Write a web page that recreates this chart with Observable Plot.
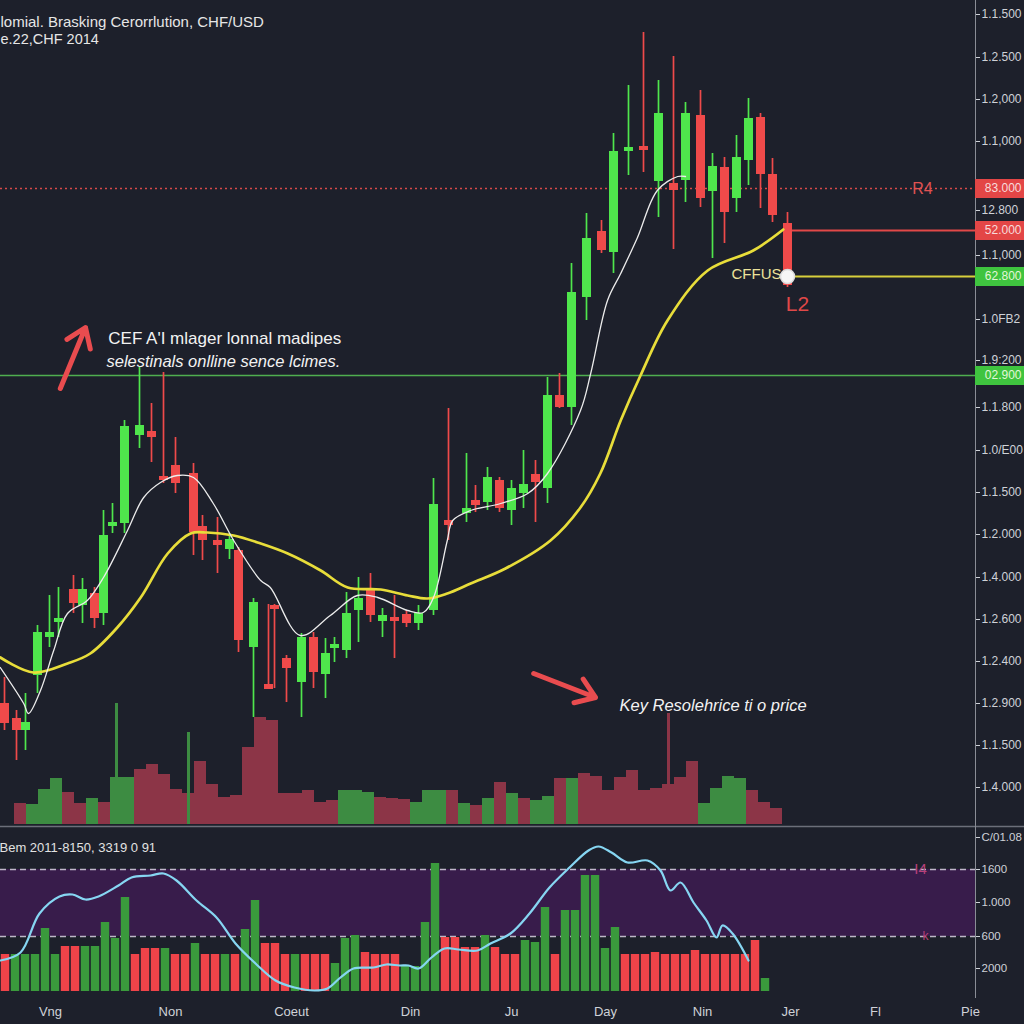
<!DOCTYPE html>
<html><head><meta charset="utf-8">
<script src="https://cdn.jsdelivr.net/npm/d3@7"></script>
<script src="https://cdn.jsdelivr.net/npm/@observablehq/plot@0.6"></script>
<style>
html,body{margin:0;padding:0;background:#1d202b;}
#wrap{position:relative;width:1024px;height:1024px;background:#1d202b;overflow:hidden;}
#wrap svg{position:absolute;left:0;}
</style></head><body><div id="wrap"></div>
<script>
// ---------- candles (session, open, high, low, close) ----------
const candleDay = [0,2,3.5,5.5,7.5,9,11.5,13,15,16.5,18,20,22.5,24.5,26.5,28.5,31.5,33,35.5,37.5,39,41.5,44,45,47,49.5,51.5,53.5,55,57,59,61,63,65,67,69,71.5,74,77,78.5,80.5,82.5,84.5,86.5,88.5,90.5,92.5,94.5,97,99.5,101.5,104,106.5,109,111.5,113.5,116,118,120,122,124,126,128,130.5];
const open  = [1.127,1.112,1.100,1.155,1.193,1.208,1.241,1.225,1.237,1.217,1.304,1.307,1.395,1.399,1.354,1.365,1.357,1.304,1.290,1.281,1.280,1.183,1.146,1.225,1.172,1.148,1.193,1.156,1.182,1.180,1.220,1.241,1.209,1.213,1.216,1.207,1.220,1.310,1.317,1.330,1.328,1.350,1.320,1.337,1.356,1.342,1.435,1.423,1.533,1.599,1.578,1.679,1.684,1.649,1.647,1.650,1.715,1.639,1.663,1.632,1.670,1.713,1.656,1.607];
const close = [1.107,1.100,1.108,1.198,1.198,1.212,1.227,1.241,1.212,1.295,1.308,1.404,1.405,1.393,1.350,1.347,1.298,1.290,1.285,1.291,1.190,1.228,1.141,1.221,1.162,1.193,1.158,1.177,1.186,1.217,1.232,1.215,1.215,1.209,1.207,1.217,1.326,1.305,1.322,1.325,1.353,1.322,1.342,1.346,1.348,1.435,1.423,1.538,1.592,1.580,1.679,1.683,1.680,1.717,1.640,1.717,1.632,1.664,1.618,1.673,1.712,1.656,1.615,1.545];
const high  = [1.153,1.120,1.137,1.205,1.235,1.243,1.255,1.252,1.243,1.320,1.327,1.410,1.463,1.427,1.458,1.393,1.367,1.315,1.313,1.297,1.283,1.232,1.226,1.226,1.175,1.197,1.198,1.192,1.193,1.238,1.253,1.257,1.222,1.235,1.220,1.225,1.352,1.422,1.377,1.345,1.363,1.353,1.350,1.380,1.370,1.453,1.457,1.567,1.617,1.610,1.697,1.745,1.798,1.750,1.774,1.728,1.740,1.677,1.673,1.695,1.732,1.717,1.672,1.618];
const low   = [1.100,1.070,1.080,1.137,1.183,1.193,1.217,1.207,1.202,1.205,1.297,1.297,1.382,1.368,1.347,1.337,1.275,1.270,1.257,1.271,1.178,1.113,1.141,1.142,1.128,1.113,1.142,1.132,1.168,1.172,1.188,1.208,1.193,1.172,1.203,1.200,1.215,1.290,1.308,1.318,1.320,1.318,1.305,1.322,1.308,1.327,1.422,1.405,1.510,1.577,1.557,1.655,1.658,1.613,1.581,1.628,1.623,1.572,1.587,1.618,1.645,1.622,1.608,1.543];

// ---------- moving averages ----------
const fastMaDay   = [-0.7,3.2,4,6,8.2,10.5,13.8,16.5,20.5,23.2,26,28.8,31.5,34.8,38.2,42.7,44.3,49.3,54.3,58.8,62.2,67.2,69.8,71.5,73.8,74.7,77.7,82.7,87.2,90.5,96,97.7,100.5,102.7,105.5,108.8,112.2,113.5];
const fastMaPrice = [1.163,1.127,1.117,1.140,1.180,1.217,1.230,1.253,1.300,1.333,1.348,1.355,1.353,1.327,1.290,1.250,1.243,1.195,1.215,1.235,1.233,1.220,1.218,1.233,1.290,1.310,1.320,1.327,1.337,1.357,1.420,1.457,1.530,1.557,1.593,1.640,1.654,1.654];
const slowMaDay   = [-0.7,4.8,10.5,14.3,18.8,22.7,27.2,31,33.8,38.2,42.7,47.2,52.7,57.2,62.7,67.2,70.5,73.8,77.7,83.5,91,96,99.3,102.7,106,110.5,117.2,124.8,129.8];
const slowMaPrice = [1.173,1.158,1.167,1.177,1.203,1.233,1.277,1.297,1.298,1.295,1.287,1.277,1.260,1.243,1.241,1.235,1.232,1.237,1.247,1.262,1.290,1.323,1.357,1.410,1.455,1.510,1.560,1.580,1.601];

// ---------- volume (one bar per slot) ----------
const volume = [21,20,35,46,32,21,26,22,47,47,55,60,50,35,31,63,40,27,29,77,107,104,31,31,34,22,24,34,34,32,27,26,25,22,34,34,34,21,19,26,42,31,26,24,28,46,46,51,48,34,47,54,34,36,40,47,63,21,36,48,46,34,22,16];
const volumeSide = "RGGGRRGRGGRRRRRRRRRRRRRRRRRGGGRRRGGGRGRGRGRGGRGRRRRRRRRRRGGGGRRR";
const spikeSlot = [8,14,54];
const spikeVol  = [121,92,111];
const spikeSide = "GGR";

// ---------- levels on the price axis ----------
const levelPrice = [1.642,1.600,1.554,1.455];
const levelLabel = ["83.000","52.000","62.800","02.900"];
const levelSide  = ["R","R","G","G"];
const yTickVals   = [1.816,1.773,1.731,1.689,1.620,1.575,1.511,1.470,1.423,1.380,1.338,1.296,1.253,1.211,1.169,1.127,1.085,1.043];
const yTickLabels = ["1.1.500","1.2.500","1.2,000","1.1,000","12.800","1.1,000","1.0FB2","1.9:200","1.1.800","1.0/E00","1.1.500","1.2.000","1.4.000","1.2.600","1.2.400","1.2.900","1.1.500","1.4.000"];

// ---------- annotations ----------
const noteText   = ["CEF A'I mlager lonnal madipes","selestinals onlline sence lcimes.","Key Resolehrice ti o price"];
const noteDay    = [17.3,17,102.5];
const notePrice  = [1.492,1.469,1.125];
const noteItalic = [false,true,true];
const arrowFromDay = [9.3,88.2], arrowFromPrice = [1.442,1.157];
const arrowToDay   = [13.5,98.5], arrowToPrice   = [1.503,1.133];

// ---------- lower indicator ----------
const histVal = [37,37,37,37,63,37,45,45,45,45,69,53,94,37,43,43,43,37,37,48,37,37,37,37,62,91,48,48,37,37,37,37,37,28,53,56,39,37,37,37,25,25,69,128,54,54,44,44,56,44,37,37,51,49,84,37,81,81,116,116,43,64,37,37,37,39,37,37,37,41,37,37,37,37,37,51,13];
const histSide = "RGGGGGRRGGGGGRRRGRRGRRGRGGRRRGRRRGGGRRRRGGGGRRRRGRRRGGGRGGGGGGRRRRRRRRRRRRRRG";
const oscX = [0,2,3.9,5.9,7.2,8.5,9.8,11.8,13.1,15,16.3,17.6,19.6,21.6,23.5,25.5,27.5,29.4,31.4,32.7,34,35.3,37.3,38.6,39.9,40.8,41.8,43.1,44.4,45.8,47.7,49,51,52.9,54.9,56.9,58.8,59.8,61.1,62.7,64.7,66,67,68,69.3,70.6,71.6,72.2,73.2,74.8];
const oscY = [31,39,78,95,97,92,95,106,114,116,118,111,91,74,48,28,11,4,1,3,14,23,24,27,26,26,23,34,43,42,41,48,58,78,104,124,141,145,139,129,131,121,101,109,89,71,54,66,58,31];
const oscBand = [55,122];
const lowTickVals = [154,122,89,55,23];
const lowTickLabels = ["C/01.08","1600","1.000","600","2000"];
const timeTicks = [5,17,29.1,41,51.1,60.5,70.2,79,87.5,97];
const timeLabels = ["Vng","Non","Coeut","Din","Ju","Day","Nin","Jer","Fl","Pie"];

// ====================================================================
const FONT = "Liberation Sans, Arial, Helvetica, sans-serif";
const GREEN = "#4fe64c", RED = "#ef4a4a";
const VGREEN = "#3d8c42", VRED = "#8c3547";
const HGREEN = "#3a9a3c", HRED = "#ef4349";
const xMin = -0.667, xMax = 161.833, xEdge = 170;
const yMin = 1.004, yMax = 1.830;
const lastDay = candleDay[candleDay.length - 1];

const candles = candleDay.map((d, i) => ({day: d, open: open[i], high: high[i], low: low[i], close: close[i]}));
const cColor = d => d.close >= d.open ? GREEN : RED;
const fastMa = fastMaDay.map((d, i) => ({day: d, price: fastMaPrice[i]}));
const slowMa = slowMaDay.map((d, i) => ({day: d, price: slowMaPrice[i]}));
const levels = levelPrice.map((p, i) => ({price: p, label: levelLabel[i], side: levelSide[i]}));
const notes = noteText.map((t, i) => ({text: t, day: noteDay[i], price: notePrice[i], italic: noteItalic[i]}));
const arrows = arrowFromDay.map((d, i) => ({x1: d, y1: arrowFromPrice[i], x2: arrowToDay[i], y2: arrowToPrice[i]}));

const wrap = document.getElementById("wrap");

// volume layer (beneath the candles)
const volData = volume.map((v, i) => ({i, v, side: volumeSide[i]}));
const spikes = spikeSlot.map((s, i) => ({i: s, v: spikeVol[i], side: spikeSide[i]}));
const volPlot = Plot.plot({
  width: 795, height: 126, marginLeft: 0, marginRight: 0, marginTop: 0, marginBottom: 0,
  style: {background: "transparent"},
  x: {type: "band", domain: d3.range(volume.length), padding: 0, axis: null},
  y: {domain: [0, 126], axis: null},
  marks: [
    Plot.barY(volData, {x: "i", y: "v", fill: d => d.side === "G" ? VGREEN : VRED}),
    Plot.ruleX(spikes, {x: "i", y1: 0, y2: "v", stroke: d => d.side === "G" ? VGREEN : VRED, strokeWidth: 3})
  ]
});
volPlot.style.top = "698px";
wrap.appendChild(volPlot);

// main price panel
const main = Plot.plot({
  width: 1024, height: 826, marginLeft: 0, marginRight: 49, marginTop: 0, marginBottom: 0,
  style: {background: "transparent", color: "#cfd2d8", fontFamily: FONT, fontSize: "12px", overflow: "visible"},
  x: {domain: [xMin, xMax], axis: null},
  y: {domain: [yMin, yMax], axis: "right", ticks: yTickVals, tickFormat: d => yTickLabels[yTickVals.indexOf(d)], tickSize: 4, tickPadding: 2, label: null},
  marks: [
    Plot.ruleX([xMax], {y1: yMin, y2: yMax, stroke: "#8a8d96", strokeWidth: 1}),
    Plot.ruleY([levelPrice[3]], {x1: xMin, x2: xMax, stroke: "#4fae4f", strokeWidth: 1.3}),
    Plot.ruleY([levelPrice[0]], {x1: xMin, x2: xMax, stroke: "#d84a4a", strokeWidth: 1.4, strokeDasharray: "2,3"}),
    Plot.ruleY([levelPrice[1]], {x1: lastDay + 0.5, x2: xMax, stroke: "#e24848", strokeWidth: 1.8}),
    Plot.ruleY([levelPrice[2]], {x1: lastDay + 0.5, x2: xMax, stroke: "#d8cf3c", strokeWidth: 1.8}),
    Plot.ruleX(candles, {x: "day", y1: "low", y2: "high", stroke: cColor, strokeWidth: 1.7}),
    Plot.ruleX(candles, {x: "day", y1: "open", y2: "close", stroke: cColor, strokeWidth: 9}),
    Plot.line(slowMa, {x: "day", y: "price", stroke: "#e8dd3a", strokeWidth: 2.7, curve: "catmull-rom"}),
    Plot.line(fastMa, {x: "day", y: "price", stroke: "#ececec", strokeWidth: 1.3, curve: "catmull-rom"}),
    // price badges on the axis
    Plot.ruleY(levels, {y: "price", x1: xMax, x2: xEdge, stroke: d => d.side === "R" ? "#e34646" : "#3fc43f", strokeWidth: 19}),
    Plot.text(levels, {y: "price", x: xEdge, text: "label", textAnchor: "end", dx: -3, fill: d => d.side === "R" ? "#f7dcdc" : "#e2f7d8", fontSize: 12}),
    Plot.text(["R4"], {x: 153, y: levelPrice[0], fill: "#e05252", fontSize: 16}),
    Plot.text(["CFFUS"], {x: lastDay - 1, y: levelPrice[2] + 0.002, textAnchor: "end", fill: "#ece39a", fontSize: 15}),
    Plot.dot([0], {x: lastDay, y: levelPrice[2], r: 7, fill: "#f6f6f6", stroke: "#dddddd"}),
    Plot.text(["L2"], {x: lastDay - 0.3, y: levelPrice[2] - 0.028, textAnchor: "start", fill: "#e04848", fontSize: 21, fontWeight: 300}),
    // notes and arrows
    Plot.arrow(arrows, {x1: "x1", y1: "y1", x2: "x2", y2: "y2", stroke: "#e94c4f", strokeWidth: 5, headLength: 13, headAngle: 70, strokeLinecap: "round"}),
    Plot.text(notes.filter(d => !d.italic), {x: "day", y: "price", text: "text", textAnchor: "start", fill: "#f2f2f2", fontSize: 17}),
    Plot.text(notes.filter(d => d.italic), {x: "day", y: "price", text: "text", textAnchor: "start", fill: "#f2f2f2", fontSize: 16.5, fontStyle: "italic"}),
    // title
    Plot.text(["lomial. Brasking Cerorrlution, CHF/USD"], {frameAnchor: "top-left", textAnchor: "start", dx: 0, dy: 16, fill: "#e6e6e6", fontSize: 15}),
    Plot.text(["e.22,CHF 2014"], {frameAnchor: "top-left", textAnchor: "start", dx: 0, dy: 33, fill: "#e6e6e6", fontSize: 14.5})
  ]
});
main.style.top = "0px";
wrap.appendChild(main);

// lower indicator panel
const hist = histVal.map((v, i) => ({i, v, side: histSide[i]}));
const osc = oscX.map((x, i) => ({x, y: oscY[i]}));
const lower = Plot.plot({
  width: 1024, height: 198, marginLeft: 0, marginRight: 49, marginTop: 0, marginBottom: 26,
  style: {background: "transparent", color: "#cfd2d8", fontFamily: FONT, fontSize: "11.5px", overflow: "visible"},
  x: {domain: [0, 97.5], axis: null},
  y: {domain: [-7, 165], axis: "right", ticks: lowTickVals, tickFormat: d => lowTickLabels[lowTickVals.indexOf(d)], tickSize: 4, tickPadding: 2, label: null},
  marks: [
    Plot.rect([oscBand], {x1: 0, x2: 97.5, y1: d => d[0], y2: d => d[1], fill: "#381c4b"}),
    Plot.ruleY(oscBand, {x1: 0, x2: 97.5, stroke: "#d8d2e2", strokeOpacity: 0.85, strokeWidth: 1.3, strokeDasharray: "6,4"}),
    Plot.rectY(hist, {x1: d => d.i, x2: d => d.i + 1, y1: 0, y2: "v", insetLeft: 0.8, insetRight: 0.8, fill: d => d.side === "G" ? HGREEN : HRED}),
    Plot.line(osc, {x: "x", y: "y", stroke: "#86d6f2", strokeWidth: 2.2, curve: "catmull-rom"}),
    Plot.ruleY([165], {x1: 0, x2: 102.4, stroke: "#6c6f7a", strokeWidth: 1.5}),
    Plot.ruleX([97.5], {y1: -7, y2: 165, stroke: "#8a8d96"}),
    Plot.axisX({ticks: timeTicks, tickFormat: d => timeLabels[timeTicks.indexOf(d)], tickSize: 0, tickPadding: 8, label: null, fontSize: 13}),
    Plot.text(["Bem 2011-8150, 3319 0 91"], {frameAnchor: "top-left", textAnchor: "start", dx: -1, dy: 16, fill: "#e2e2e2", fontSize: 13}),
    Plot.text(["I4"], {x: 92, y: oscBand[1], fill: "#b8407a", fontSize: 15}),
    Plot.text(["k"], {x: 92.5, y: oscBand[0], fill: "#b8407a", fontSize: 12})
  ]
});
lower.style.top = "826px";
wrap.appendChild(lower);
</script></body></html>
